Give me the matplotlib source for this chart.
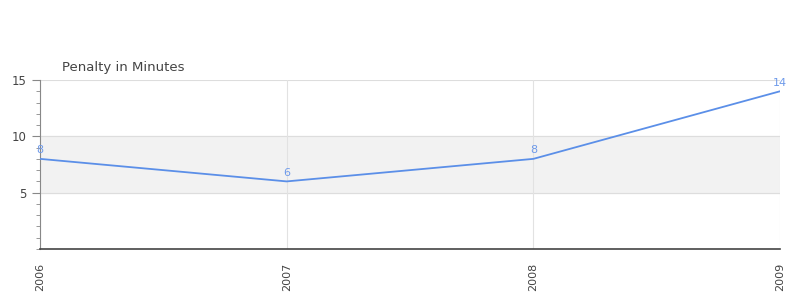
import matplotlib
matplotlib.use("Agg")
import matplotlib.pyplot as plt
from matplotlib.ticker import MultipleLocator

years = ["2006", "2007", "2008", "2009"]
penalty = [8, 6, 8, 14]
yticks = [5, 10, 15]

fig = plt.figure(figsize=(8, 3), dpi=100)
ax = fig.add_axes([0.05, 0.17, 0.925, 0.5633])

x = list(range(len(years)))
ax.axhspan(5, 10, color="#f2f2f2", zorder=0)
ax.plot(x, penalty, color="#5b8fe8", lw=1.3, zorder=3)
for xi, v in zip(x, penalty):
    ax.text(xi, v + 0.3, str(v), color="#6e9aea", fontsize=8,
            ha="center", va="bottom", zorder=4)

ax.set_xlim(0, len(years) - 1)
ax.set_ylim(0, 15)
ax.set_xticks(x)
ax.set_xticklabels(years, rotation=90, fontsize=8, color="#444444")
ax.set_yticks(yticks)
ax.set_yticklabels([str(t) for t in yticks], fontsize=8.5, color="#444444")
ax.yaxis.set_minor_locator(MultipleLocator(1))
ax.tick_params(axis="y", which="major", length=6, color="#888888", pad=4)
ax.tick_params(axis="y", which="minor", length=3, color="#888888")
ax.tick_params(axis="x", length=0, pad=10)

for t in yticks:
    ax.axhline(t, color="#dddddd", lw=0.8, zorder=1)
for xi in x:
    ax.axvline(xi, color="#e2e2e2", lw=0.8, zorder=1)

for side in ["top", "right"]:
    ax.spines[side].set_visible(False)
ax.spines["left"].set_color("#888888")
ax.spines["bottom"].set_color("#444444")
ax.spines["bottom"].set_linewidth(1.2)
ax.axhline(0.02, color="#cc0000", lw=0.6, zorder=5)

fig.text(62 / 800, 1 - 67 / 300, "Penalty in Minutes", fontsize=9.5,
         color="#444444", ha="left", va="center")

fig.savefig("out.png", dpi=100)
